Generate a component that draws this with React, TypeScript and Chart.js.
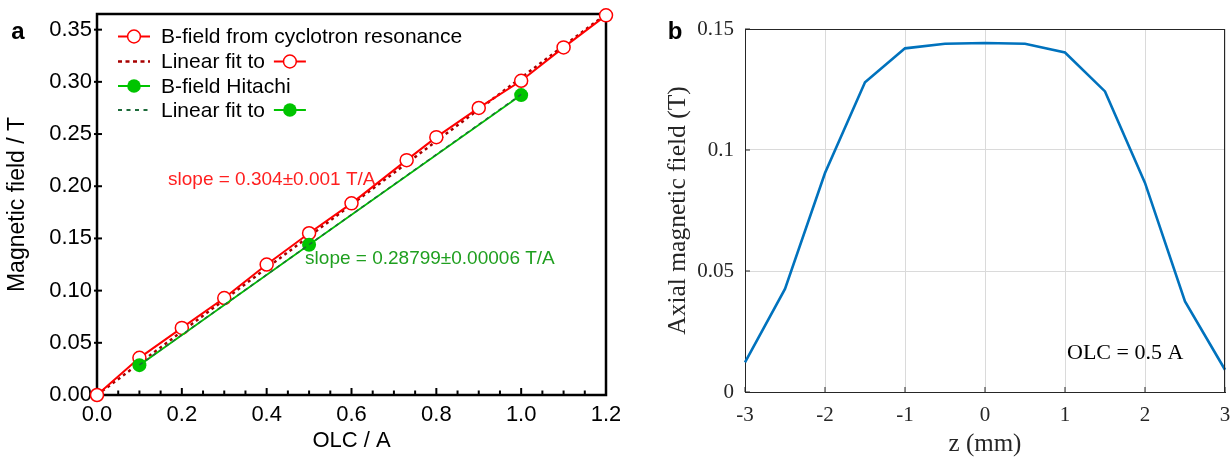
import React, { useEffect, useRef } from 'react';
import { Chart, registerables } from 'chart.js';

Chart.register(...registerables);

// ---------- Panel a data ----------
const olcCyclotron = [0, 0.1, 0.2, 0.3, 0.4, 0.5, 0.6, 0.73, 0.8, 0.9, 1.0, 1.1, 1.2];
const bCyclotron = [0, 0.0356, 0.0643, 0.0929, 0.125, 0.155, 0.1836, 0.225, 0.247, 0.275, 0.301, 0.333, 0.3637];
const olcHitachi = [0.1, 0.5, 1.0];
const bHitachi = [0.0286, 0.144, 0.2873];
const fitCyclotronX = [0, 1.2];
const fitCyclotronY = [0, 0.3648];
const fitHitachiX = [0.1, 1.0];
const fitHitachiY = [0.0288, 0.288];
const leftXTicks = [0, 0.2, 0.4, 0.6, 0.8, 1.0, 1.2];
const leftXTickLabels = ['0.0', '0.2', '0.4', '0.6', '0.8', '1.0', '1.2'];
const leftYTicks = [0, 0.05, 0.1, 0.15, 0.2, 0.25, 0.3, 0.35];
const leftYTickLabels = ['0.00', '0.05', '0.10', '0.15', '0.20', '0.25', '0.30', '0.35'];
const legendLabels = ['B-field from cyclotron resonance', 'Linear fit to', 'B-field Hitachi', 'Linear fit to'];
const slopeLabels = ['slope = 0.304±0.001 T/A', 'slope = 0.28799±0.00006 T/A'];
const slopeAnchorsX = [0.1675, 0.4906];
const slopeAnchorsY = [0.206, 0.1303];

// ---------- Panel b data ----------
const zPositions = [-3, -2.5, -2, -1.5, -1, -0.5, 0, 0.5, 1, 1.5, 2, 2.5, 3];
const axialField = [0.0122, 0.0426, 0.0905, 0.128, 0.142, 0.1439, 0.1442, 0.1439, 0.1403, 0.1242, 0.0864, 0.0374, 0.0092];
const rightXTicks = [-3, -2, -1, 0, 1, 2, 3];
const rightXTickLabels = ['-3', '-2', '-1', '0', '1', '2', '3'];
const rightYTicks = [0, 0.05, 0.1, 0.15];
const rightYTickLabels = ['0', '0.05', '0.1', '0.15'];
const annotationText = 'OLC = 0.5 A';
const annotationX = 1.025;
const annotationY = 0.0161;

const SANS = '"Liberation Sans", Arial, Helvetica, sans-serif';
const SERIF = '"Liberation Serif", "Times New Roman", Times, serif';

const RED = '#ff0000';
const DARK_RED = '#a80000';
const GREEN = '#00c400';
const DARK_GREEN = '#1d6b3a';

function drawSymbol(ctx: CanvasRenderingContext2D, kind: string, x: number, y: number, len: number) {
  ctx.save();
  if (kind === 'redData' || kind === 'greenData') {
    const c = kind === 'redData' ? RED : GREEN;
    ctx.strokeStyle = c;
    ctx.lineWidth = 2;
    ctx.setLineDash([]);
    ctx.beginPath();
    ctx.moveTo(x, y);
    ctx.lineTo(x + len, y);
    ctx.stroke();
    ctx.beginPath();
    if (kind === 'redData') {
      ctx.arc(x + len / 2, y, 6.4, 0, Math.PI * 2);
      ctx.fillStyle = '#fff';
      ctx.fill();
      ctx.lineWidth = 1.5;
      ctx.strokeStyle = RED;
      ctx.stroke();
    } else {
      ctx.arc(x + len / 2, y, 6.8, 0, Math.PI * 2);
      ctx.fillStyle = GREEN;
      ctx.fill();
    }
  } else {
    ctx.strokeStyle = kind === 'redFit' ? DARK_RED : DARK_GREEN;
    ctx.lineWidth = kind === 'redFit' ? 2.5 : 2;
    ctx.setLineDash(kind === 'redFit' ? [4, 3.5] : [4, 4.5]);
    ctx.beginPath();
    ctx.moveTo(x, y);
    ctx.lineTo(x + len, y);
    ctx.stroke();
  }
  ctx.restore();
}

const leftDecor = {
  id: 'leftDecor',
  beforeDatasetsDraw(chart: any) {
    const { ctx, chartArea, scales } = chart;
    ctx.save();
    ctx.strokeStyle = '#000';
    ctx.lineWidth = 2.5;
    ctx.strokeRect(chartArea.left, chartArea.top, chartArea.right - chartArea.left, chartArea.bottom - chartArea.top);
    ctx.lineWidth = 2;
    for (let k = 0; k <= 24; k++) {
      const v = k * 0.05;
      const px = scales.x.getPixelForValue(v);
      const major = k % 4 === 0;
      ctx.beginPath();
      ctx.moveTo(px, chartArea.bottom);
      ctx.lineTo(px, chartArea.bottom - (major ? 7 : 4.5));
      ctx.stroke();
    }
    leftYTicks.forEach((v) => {
      const py = scales.y.getPixelForValue(v);
      ctx.beginPath();
      ctx.moveTo(chartArea.left - 3, py);
      ctx.lineTo(chartArea.left + 5, py);
      ctx.stroke();
    });
    ctx.restore();
  },
  afterDatasetsDraw(chart: any) {
    const { ctx, chartArea, scales } = chart;
    ctx.save();
    const kinds = ['redData', 'redFit', 'greenData', 'greenFit'];
    const rowOffsets = [22.5, 47.5, 72, 96];
    const sx = chartArea.left + 21;
    const len = 32;
    ctx.font = '21px ' + SANS;
    ctx.textBaseline = 'middle';
    ctx.textAlign = 'left';
    ctx.fillStyle = '#000';
    kinds.forEach((k, i) => {
      const y = chartArea.top + rowOffsets[i];
      drawSymbol(ctx, k, sx, y, len);
      ctx.fillStyle = '#000';
      ctx.fillText(legendLabels[i], sx + 43, y + 1);
      if (k === 'redFit' || k === 'greenFit') {
        const w = ctx.measureText(legendLabels[i]).width;
        drawSymbol(ctx, k === 'redFit' ? 'redData' : 'greenData', sx + 43 + w + 9, y, len);
      }
    });
    ctx.font = '19px ' + SANS;
    ctx.fillStyle = '#ff1f1f';
    ctx.fillText(slopeLabels[0], scales.x.getPixelForValue(slopeAnchorsX[0]), scales.y.getPixelForValue(slopeAnchorsY[0]));
    ctx.fillStyle = '#1f9f1f';
    ctx.fillText(slopeLabels[1], scales.x.getPixelForValue(slopeAnchorsX[1]), scales.y.getPixelForValue(slopeAnchorsY[1]));
    ctx.font = 'bold 24px ' + SANS;
    ctx.fillStyle = '#000';
    ctx.textAlign = 'center';
    ctx.fillText('a', 18, 32);
    ctx.restore();
  },
};

const rightDecor = {
  id: 'rightDecor',
  afterDatasetsDraw(chart: any) {
    const { ctx, chartArea, scales } = chart;
    ctx.save();
    ctx.strokeStyle = '#262626';
    ctx.lineWidth = 1;
    ctx.beginPath();
    ctx.moveTo(chartArea.left, chartArea.top + 0.5);
    ctx.lineTo(chartArea.right, chartArea.top + 0.5);
    ctx.moveTo(chartArea.right - 0.5, chartArea.top);
    ctx.lineTo(chartArea.right - 0.5, chartArea.bottom);
    ctx.stroke();
    rightXTicks.forEach((v) => {
      const px = scales.x.getPixelForValue(v);
      ctx.beginPath();
      ctx.moveTo(px, chartArea.bottom);
      ctx.lineTo(px, chartArea.bottom - 5);
      ctx.stroke();
    });
    rightYTicks.forEach((v) => {
      const py = scales.y.getPixelForValue(v);
      ctx.beginPath();
      ctx.moveTo(chartArea.left, py);
      ctx.lineTo(chartArea.left + 5, py);
      ctx.stroke();
    });
    ctx.font = '22px ' + SERIF;
    ctx.fillStyle = '#000';
    ctx.textBaseline = 'middle';
    ctx.textAlign = 'left';
    ctx.fillText(annotationText, scales.x.getPixelForValue(annotationX), scales.y.getPixelForValue(annotationY));
    ctx.font = 'bold 24px ' + SANS;
    ctx.textAlign = 'center';
    ctx.fillText('b', 55, 32);
    ctx.restore();
  },
};

const fitX = (h: number) => (s: any) => {
  s.height = h;
  s.paddingLeft = 0;
  s.paddingRight = 0;
};
const fitY = (w: number) => (s: any) => {
  s.width = w;
  s.paddingTop = 0;
  s.paddingBottom = 0;
};

export default function App() {
  const leftRef = useRef<HTMLCanvasElement>(null);
  const rightRef = useRef<HTMLCanvasElement>(null);

  useEffect(() => {
    const left = new Chart(leftRef.current as HTMLCanvasElement, {
      type: 'scatter',
      data: {
        datasets: [
          {
            label: legendLabels[1],
            data: fitCyclotronX.map((x, i) => ({ x, y: fitCyclotronY[i] })),
            showLine: true,
            borderColor: DARK_RED,
            borderWidth: 2.5,
            borderDash: [3, 3.5],
            pointRadius: 0,
            clip: false,
            order: 4,
          },
          {
            label: legendLabels[0],
            data: olcCyclotron.map((x, i) => ({ x, y: bCyclotron[i] })),
            showLine: true,
            borderColor: RED,
            borderWidth: 2,
            pointRadius: 6.5,
            pointBackgroundColor: '#ffffff',
            pointBorderColor: RED,
            pointBorderWidth: 1.5,
            clip: false,
            order: 3,
          },
          {
            label: legendLabels[2],
            data: olcHitachi.map((x, i) => ({ x, y: bHitachi[i] })),
            showLine: true,
            borderColor: GREEN,
            borderWidth: 1.8,
            pointRadius: 7,
            pointBackgroundColor: GREEN,
            pointBorderColor: GREEN,
            pointBorderWidth: 0,
            clip: false,
            order: 2,
          },
          {
            label: legendLabels[3],
            data: fitHitachiX.map((x, i) => ({ x, y: fitHitachiY[i] })),
            showLine: true,
            borderColor: DARK_GREEN,
            borderWidth: 1.5,
            borderDash: [4, 4],
            pointRadius: 0,
            clip: false,
            order: 1,
          },
        ],
      },
      options: {
        animation: false,
        responsive: false,
        events: [],
        layout: { padding: { left: 0, top: 14, right: 14, bottom: 0 } },
        plugins: { legend: { display: false }, tooltip: { enabled: false } },
        scales: {
          x: {
            type: 'linear',
            min: 0,
            max: 1.2,
            afterBuildTicks: (s: any) => {
              s.ticks = leftXTicks.map((v) => ({ value: v }));
            },
            afterFit: fitX(62),
            grid: { display: false, drawTicks: false },
            border: { display: false },
            ticks: {
              padding: 7,
              color: '#000',
              maxRotation: 0,
              font: { family: SANS, size: 22 },
              callback: (_v: any, i: number) => leftXTickLabels[i],
            },
            title: {
              display: true,
              text: 'OLC / A',
              color: '#000',
              font: { family: SANS, size: 22 },
              padding: { top: 0, bottom: 3 },
            },
          },
          y: {
            type: 'linear',
            min: 0,
            max: 0.365,
            afterBuildTicks: (s: any) => {
              s.ticks = leftYTicks.map((v) => ({ value: v }));
            },
            afterFit: fitY(97),
            grid: { display: false, drawTicks: false },
            border: { display: false },
            ticks: {
              padding: 5,
              color: '#000',
              font: { family: SANS, size: 22 },
              callback: (_v: any, i: number) => leftYTickLabels[i],
            },
            title: {
              display: true,
              text: 'Magnetic field / T',
              color: '#000',
              font: { family: SANS, size: 23 },
              padding: { top: 4, bottom: 0 },
            },
          },
        },
      },
      plugins: [leftDecor],
    } as any);

    const right = new Chart(rightRef.current as HTMLCanvasElement, {
      type: 'line',
      data: {
        datasets: [
          {
            label: 'Axial magnetic field',
            data: zPositions.map((x, i) => ({ x, y: axialField[i] })),
            borderColor: '#0072BD',
            borderWidth: 2.6,
            pointRadius: 0,
            tension: 0,
            clip: false,
          },
        ],
      },
      options: {
        animation: false,
        responsive: false,
        events: [],
        layout: { padding: { left: 39, top: 29, right: 6, bottom: 0 } },
        plugins: { legend: { display: false }, tooltip: { enabled: false } },
        scales: {
          x: {
            type: 'linear',
            min: -3,
            max: 3,
            afterBuildTicks: (s: any) => {
              s.ticks = rightXTicks.map((v) => ({ value: v }));
            },
            afterFit: fitX(65),
            grid: { display: true, drawTicks: false, color: '#dadada', lineWidth: 1 },
            border: { display: true, color: '#262626', width: 1 },
            ticks: {
              padding: 11,
              color: '#262626',
              maxRotation: 0,
              font: { family: SERIF, size: 21 },
              callback: (_v: any, i: number) => rightXTickLabels[i],
            },
            title: {
              display: true,
              text: 'z (mm)',
              color: '#262626',
              font: { family: SERIF, size: 25, lineHeight: 1 },
              padding: { top: 0, bottom: 0 },
            },
          },
          y: {
            type: 'linear',
            min: 0,
            max: 0.15,
            afterBuildTicks: (s: any) => {
              s.ticks = rightYTicks.map((v) => ({ value: v }));
            },
            afterFit: fitY(86),
            grid: { display: true, drawTicks: false, color: '#dadada', lineWidth: 1 },
            border: { display: true, color: '#262626', width: 1 },
            ticks: {
              padding: 11,
              color: '#262626',
              font: { family: SERIF, size: 21 },
              callback: (_v: any, i: number) => rightYTickLabels[i],
            },
            title: {
              display: true,
              text: 'Axial magnetic field (T)',
              color: '#262626',
              font: { family: SERIF, size: 25.5 },
              padding: { top: 4, bottom: 0 },
            },
          },
        },
      },
      plugins: [rightDecor],
    } as any);

    return () => {
      left.destroy();
      right.destroy();
    };
  }, []);

  return (
    <div style={{ position: 'absolute', left: 0, top: 0, width: 1231, height: 457, background: '#fff', overflow: 'hidden' }}>
      <canvas ref={leftRef} width={620} height={457} style={{ position: 'absolute', left: 0, top: 0, width: 620, height: 457 }} />
      <canvas ref={rightRef} width={611} height={457} style={{ position: 'absolute', left: 620, top: 0, width: 611, height: 457 }} />
    </div>
  );
}
